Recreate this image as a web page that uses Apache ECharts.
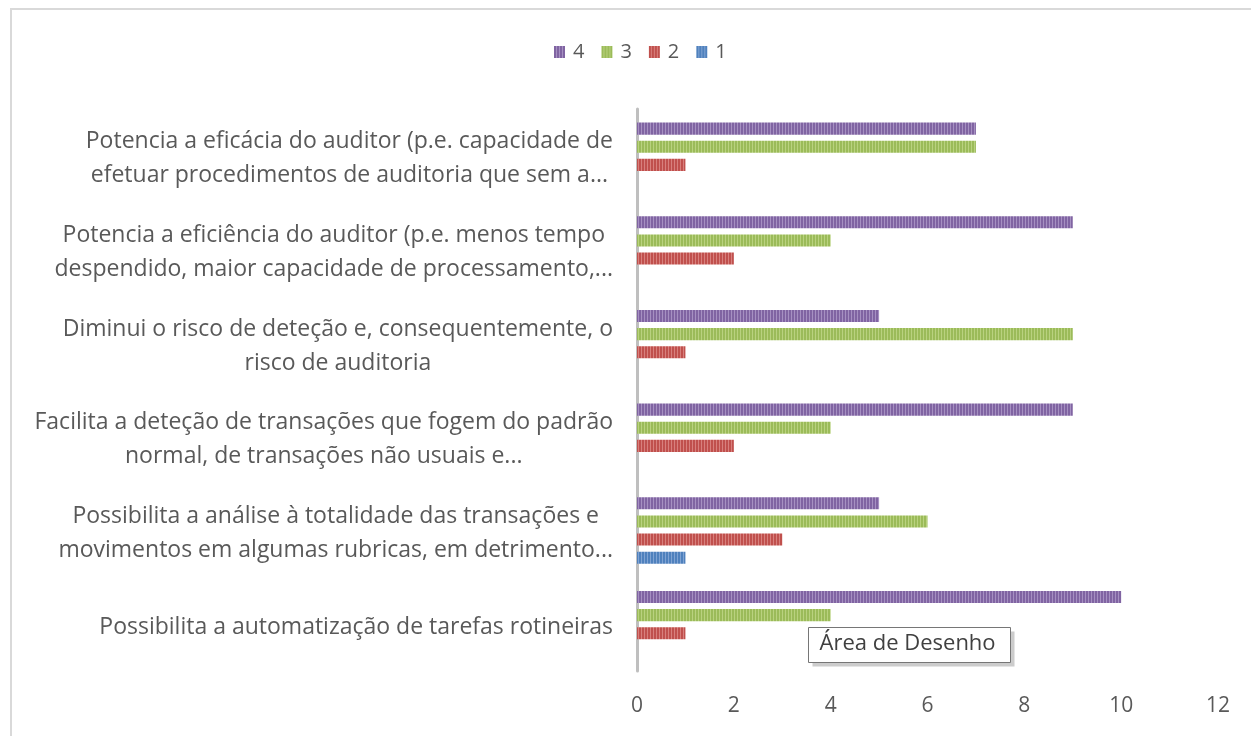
<!DOCTYPE html>
<html>
<head>
<meta charset="utf-8">
<script src="https://cdn.jsdelivr.net/npm/echarts@6/dist/echarts.min.js"></script>
<style>
  html, body { margin: 0; padding: 0; background: #fff; }
  #chart { width: 1251px; height: 736px; }
</style>
</head>
<body>
<div id="chart"></div>
<script>
// categories, top to bottom as shown
const categories = [
  'Potencia a eficácia do auditor (p.e. capacidade de\nefetuar procedimentos de auditoria que sem a...',
  'Potencia a eficiência do auditor (p.e. menos tempo\ndespendido, maior capacidade de processamento,...',
  'Diminui o risco de deteção e, consequentemente, o\nrisco de auditoria',
  'Facilita a deteção de transações que fogem do padrão\nnormal, de transações não usuais e...',
  'Possibilita a análise à totalidade das transações e\nmovimentos em algumas rubricas, em detrimento...',
  'Possibilita a automatização de tarefas rotineiras'
]

const seriesNames = ['4', '3', '2', '1']
const values4 = [7, 9, 5, 9, 5, 10]
const values3 = [7, 4, 9, 4, 6, 4]
const values2 = [1, 2, 1, 2, 3, 1]
const values1 = [0, 0, 0, 0, 1, 0]

const xTicks = [0, 2, 4, 6, 8, 10, 12]

const colors = ['#8064A2', '#9BBB59', '#C0504D', '#4F81BD']
const lightColors = ['#A690C2', '#B9D27F', '#D8807D', '#7FA3D3']

// vertical stripe pattern like the Excel fill
const stripe = (color, light) => {
  const c = document.createElement('canvas')
  c.width = 3
  c.height = 4
  const ctx = c.getContext('2d')
  ctx.fillStyle = color
  ctx.fillRect(0, 0, 3, 4)
  ctx.fillStyle = light
  ctx.fillRect(2, 0, 1, 4)
  return { image: c, repeat: 'repeat' }
}

const font = 'Open Sans'
const textColor = '#595959'

const chart = echarts.init(document.getElementById('chart'))

const allValues = [values4, values3, values2, values1]

chart.setOption({
  animation: false,
  textStyle: { fontFamily: font },
  legend: {
    data: seriesNames,
    top: 37,
    left: 549,
    itemWidth: 11,
    itemHeight: 12,
    itemGap: 17,
    icon: 'rect',
    textStyle: { fontSize: 20, color: textColor, fontFamily: font, padding: [0, 0, 0, 3] }
  },
  grid: { left: 637, right: 33, top: 109, bottom: 65, containLabel: false },
  xAxis: {
    type: 'value',
    min: 0,
    max: 12,
    interval: 2,
    axisLine: { show: false },
    axisTick: { show: false },
    splitLine: { show: false },
    axisLabel: {
      fontSize: 21,
      color: textColor,
      margin: 25,
      formatter: v => (xTicks.includes(v) ? String(v) : '')
    }
  },
  yAxis: {
    type: 'category',
    inverse: true,
    data: categories,
    axisLine: { show: true, lineStyle: { color: '#BFBFBF', width: 3 } },
    axisTick: { show: false },
    axisLabel: {
      margin: 24,
      align: 'right',
      padding: [6, 0, 0, 0],
      formatter: v => v.split('\n').map(l => '{a|' + l + '}').join('\n'),
      rich: {
        a: { fontSize: 23, lineHeight: 34, color: textColor, align: 'center', fontFamily: font }
      }
    }
  },
  series: seriesNames.map((name, i) => ({
    name,
    type: 'bar',
    data: allValues[i],
    barGap: '50%',
    barCategoryGap: '29%',
    itemStyle: { color: stripe(colors[i], lightColors[i]) }
  })),
  graphic: [
    {
      type: 'rect',
      shape: { x: 11, y: 9, width: 1260, height: 760 },
      style: { fill: 'none', stroke: '#D9D9D9', lineWidth: 2 },
      silent: true
    },
    {
      type: 'group',
      left: 808,
      top: 627,
      children: [
        {
          type: 'rect',
          shape: { x: 4, y: 4, width: 202, height: 35 },
          style: { fill: '#9a9a9a', opacity: 0.5 }
        },
        {
          type: 'rect',
          shape: { x: 0, y: 0, width: 202, height: 35 },
          style: { fill: '#fff', stroke: '#767676', lineWidth: 1 }
        },
        {
          type: 'text',
          x: 11,
          y: 5,
          style: { text: 'Área de Desenho', fontSize: 22, fill: '#404040', fontFamily: font }
        }
      ]
    }
  ]
})
</script>
</body>
</html>
